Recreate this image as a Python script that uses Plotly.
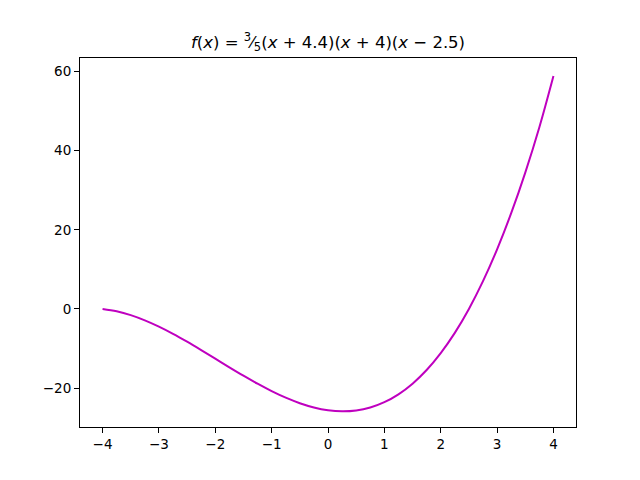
import plotly.graph_objects as go

# values
x_vals = [-4.0, -3.75, -3.5, -3.25, -3.0, -2.75, -2.5, -2.25, -2.0, -1.75, -1.5,
          -1.25, -1.0, -0.75, -0.5, -0.25, 0.0, 0.25, 0.5, 0.75, 1.0, 1.25,
          1.5, 1.75, 2.0, 2.25, 2.5, 2.75, 3.0, 3.25, 3.5, 3.75, 4.0]
y_vals = [0.0, -0.59, -1.57, -2.89, -4.48, -6.30, -8.29, -10.40, -12.57, -14.75, -16.88,
          -18.91, -20.78, -22.44, -23.83, -24.91, -25.61, -25.88, -25.67, -24.92, -23.57, -21.58,
          -18.89, -15.44, -11.17, -6.05, 0.0, 7.02, 15.07, 24.21, 34.48, 45.95, 58.9]
x_ticks = [-4, -3, -2, -1, 0, 1, 2, 3, 4]
y_ticks = [-20, 0, 20, 40, 60]

fig = go.Figure()
fig.add_trace(go.Scatter(
    x=x_vals,
    y=y_vals,
    mode='lines',
    line=dict(color='#bf00bf', width=2, shape='spline'),
    showlegend=False
))

axis_style = dict(
    showgrid=False, zeroline=False, showline=True, mirror=True,
    linecolor='black', linewidth=1, ticks='outside', ticklen=5,
    tickcolor='black', tickfont=dict(size=13.5, color='black')
)

# the page body adds 8px on the left and top, so margins are trimmed by that
fig.update_layout(
    width=640,
    height=480,
    margin=dict(l=72, r=72, t=49.6, b=60.8),
    plot_bgcolor='white',
    paper_bgcolor='white',
    font=dict(family='DejaVu Sans', color='black'),
    title=dict(
        text='<i>f</i>(<i>x</i>) = <sup>3</sup>⁄<sub>5</sub>(<i>x</i> + 4.4)(<i>x</i> + 4)(<i>x</i> − 2.5)',
        x=0.5, xref='paper', xanchor='center',
        y=0.929, yref='container', yanchor='middle',
        font=dict(size=16.5, color='black')
    ),
    xaxis=dict(range=[-4.4, 4.4], tickvals=x_ticks, **axis_style),
    yaxis=dict(range=[-29.85, 63.45], tickvals=y_ticks, **axis_style),
)

fig.write_html("out.html")
